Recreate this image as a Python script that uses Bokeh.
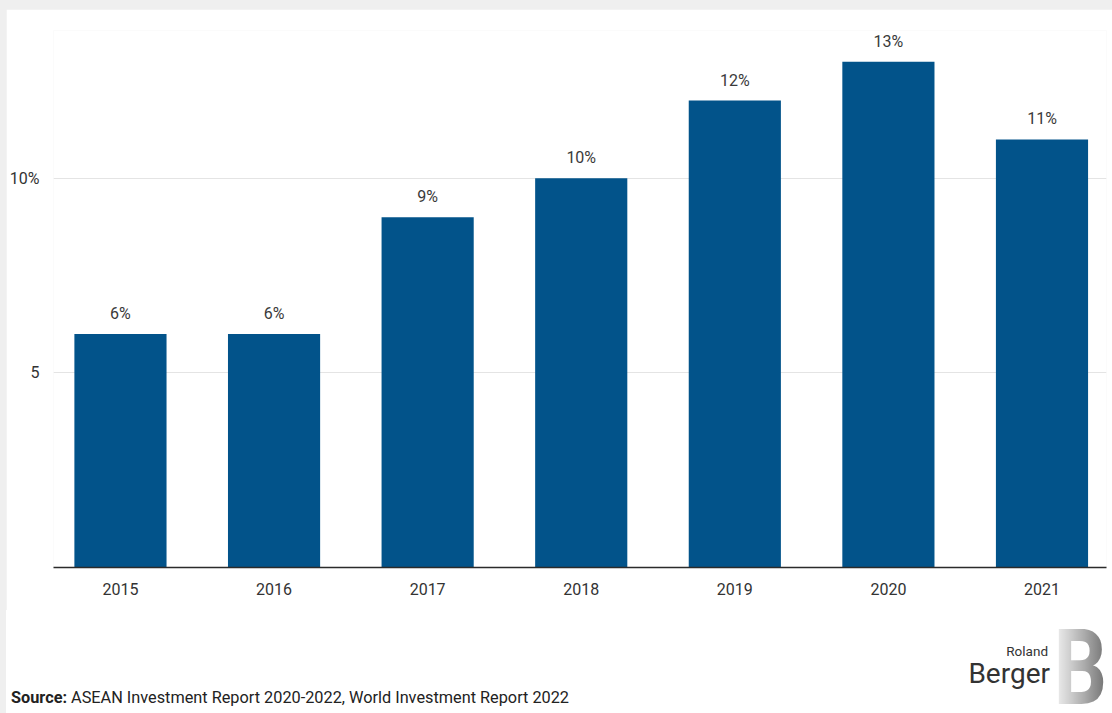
from bokeh.plotting import figure
from bokeh.models import ColumnDataSource, FixedTicker, LabelSet, Range1d, Div
from bokeh.core.properties import value
from bokeh.layouts import column
from bokeh.embed import file_html
from bokeh.resources import INLINE

years = ["2015", "2016", "2017", "2018", "2019", "2020", "2021"]
values = [6, 6, 9, 10, 12, 13, 11]
bar_labels = ["6%", "6%", "9%", "10%", "12%", "13%", "11%"]
y_ticks = [5, 10]
y_tick_labels = {5: "5", 10: "10%"}
source_bold = "Source:"
source_text = "ASEAN Investment Report 2020-2022, World Investment Report 2022"

idx = list(range(len(years)))
src = ColumnDataSource(dict(x=idx, top=values, lab=bar_labels))

p = figure(width=1106, height=601, output_backend="svg", toolbar_location=None,
           x_range=Range1d(-0.436, 6.42), y_range=Range1d(0, 13.8),
           min_border_left=46, min_border_right=6, min_border_top=21, min_border_bottom=43)
p.background_fill_color = "white"
p.border_fill_color = "white"
p.outline_line_color = None

p.vbar(x="x", top="top", width=0.6, source=src, fill_color="#02538A", line_color=None)
p.add_layout(LabelSet(x="x", y="top", text="lab", source=src, text_align="center",
                      text_baseline="bottom", y_offset=11, text_font=value("Roboto"),
                      text_font_size=value("16px"), text_color=value("#3a3a3a")))

p.xaxis.ticker = FixedTicker(ticks=idx)
p.xaxis.major_label_overrides = {i: y for i, y in zip(idx, years)}
p.xaxis.major_tick_line_color = None
p.xaxis.minor_tick_line_color = None
p.xaxis.axis_line_color = "#2b2b2b"
p.xaxis.axis_line_width = 1.5
p.xaxis.major_label_standoff = 9
p.xaxis.major_label_text_font = "Roboto"
p.xaxis.major_label_text_font_size = "16px"
p.xaxis.major_label_text_color = "#333333"

p.yaxis.ticker = FixedTicker(ticks=y_ticks)
p.yaxis.major_label_overrides = y_tick_labels
p.yaxis.axis_line_color = None
p.yaxis.major_tick_line_color = None
p.yaxis.minor_tick_line_color = None
p.yaxis.major_label_standoff = 8
p.yaxis.major_label_text_font = "Roboto"
p.yaxis.major_label_text_font_size = "16px"
p.yaxis.major_label_text_color = "#333333"

p.xgrid.grid_line_color = None
p.ygrid.ticker = FixedTicker(ticks=y_ticks)
p.ygrid.grid_line_color = "#e4e4e4"
p.ygrid.grid_line_width = 1

# footer: source note and logo
footer_html = f"""
<div style="position:relative;width:1106px;height:103px;background:#ffffff;
            font-family:Roboto,sans-serif;">
  <span style="position:absolute;left:5px;top:80px;font-size:16.3px;line-height:16px;
               color:#222222;white-space:nowrap;"><b>{source_bold}</b> {source_text}</span>
  <span style="position:absolute;right:64px;top:35px;font-size:13.5px;line-height:13.5px;
               color:#333333;white-space:nowrap;">Roland</span>
  <span style="position:absolute;right:62px;top:50px;font-size:28px;line-height:28px;
               color:#333333;white-space:nowrap;">Berger</span>
  <span style="position:absolute;right:5px;top:19px;font-size:105px;line-height:80px;
               font-weight:bold;white-space:nowrap;transform:scaleX(0.8);
               transform-origin:right top;
               background:linear-gradient(90deg,#f4f4f4 0%,#c9c9c9 35%,#a8a8a8 60%,#6f6f6f 100%);
               -webkit-background-clip:text;background-clip:text;color:transparent;">B</span>
</div>
"""
f = Div(text=footer_html, width=1106, height=103, margin=0)

layout = column(p, f, spacing=0, styles={"background-color": "#efefef", "padding-left": "6px",
                                         "padding-top": "9px"})
open("out.html", "w").write(file_html(layout, INLINE))
